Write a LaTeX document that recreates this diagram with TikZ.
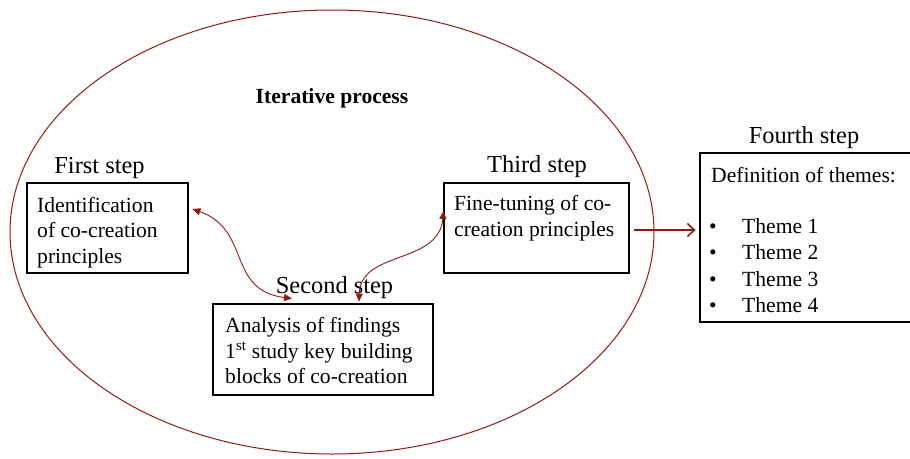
\documentclass[tikz,border=0pt]{standalone}
\usepackage{fontspec}
\setmainfont{Liberation Serif}
\usetikzlibrary{arrows.meta}
\definecolor{dred}{RGB}{140,28,22}
\tikzset{
  box/.style={draw=black, line width=2.9pt, rectangle, inner sep=0pt},
  txt/.style={anchor=base west, inner sep=0pt, font=\fontsize{21.6}{25.6}\selectfont},
  ctxt/.style={anchor=base, inner sep=0pt, font=\fontsize{21.6}{25.6}\selectfont},
  lbl/.style={anchor=base, inner sep=0pt, font=\fontsize{24.4}{29}\selectfont},
  link/.style={draw=dred, line width=0.9pt, {Triangle[length=8pt,width=7pt]}-{Triangle[length=8pt,width=7pt]}},
  flow/.style={draw=dred, line width=1.6pt, -{Straight Barb[length=7pt,width=13pt,line width=1.6pt]}}
}
\begin{document}
\begin{tikzpicture}[x=1pt,y=-1pt]
\useasboundingbox (0,0) rectangle (910,458);
\clip (0,0) rectangle (910,458);
% ellipse
\draw[dred, line width=1pt] (332,232) ellipse [x radius=322, y radius=222];
\node[ctxt, font=\bfseries\fontsize{21.6}{25.6}\selectfont] (title) at (332,103) {Iterative process};
% boxes
\node[box, minimum width=161pt, minimum height=90pt] (b1) at (107.5,228) {};
\node[box, minimum width=220pt, minimum height=91pt] (b2) at (323,349.5) {};
\node[box, minimum width=185pt, minimum height=90pt] (b3) at (536.5,228) {};
\node[box, minimum width=240pt, minimum height=169pt] (b4) at (820,237.5) {};
% labels
\node[lbl] (l1) at (99.5,173) {First step};
\node[lbl] (l2) at (334.5,293) {Second step};
\node[lbl] (l3) at (537,172) {Third step};
\node[lbl] (l4) at (804,143) {Fourth step};
% box texts
\node[txt] (t1a) at (37,212) {Identification};
\node[txt] (t1b) at (37,237.5) {of co-creation};
\node[txt] (t1c) at (37,263) {principles};
\node[txt] (t2a) at (225,332.5) {Analysis of findings};
\node[txt] (t2b) at (225,358) {1\textsuperscript{st} study key building};
\node[txt] (t2c) at (225,383.5) {blocks of co-creation};
\node[txt] (t3a) at (454,210.5) {Fine-tuning of co-};
\node[txt] (t3b) at (454,236) {creation principles};
\node[txt] (t4) at (711,182) {Definition of themes:};
\foreach \i/\y in {1/233,2/259.5,3/286,4/312}{
  \node[txt] (bul\i) at (709,\y) {•};
  \node[txt] (th\i) at (742,\y) {Theme \i};
}
% connectors
\draw[link] ([xshift=3pt,yshift=19pt]b1.east) .. controls ([xshift=62pt,yshift=-2pt]b1.east) and ([xshift=37pt,yshift=-62pt]b1.east) .. ([xshift=-31pt,yshift=4pt]b2.north);
\draw[link] ([xshift=36pt,yshift=1pt]b2.north) .. controls ([xshift=-82pt,yshift=-22pt]b3.west) and ([xshift=-4pt,yshift=-37pt]b3.west) .. ([xshift=1pt,yshift=17pt]b3.west);
\draw[flow] ([xshift=4pt,yshift=-2pt]b3.east) -- ([xshift=-3pt,yshift=7.5pt]b4.west);
\end{tikzpicture}
\end{document}
